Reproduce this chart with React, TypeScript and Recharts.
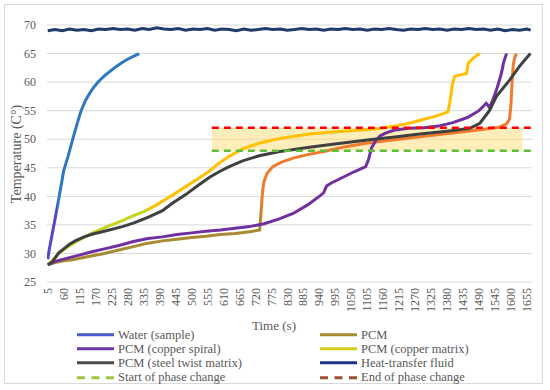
import { LineChart, Line, XAxis, YAxis, CartesianGrid, ReferenceArea } from 'recharts';

type Pt = [number, number];

const X_TICKS = [
  5, 60, 115, 170, 225, 280, 335, 390, 445, 500, 555, 610, 665, 720, 775, 830, 885, 940, 995, 1050, 1105, 1160,
  1215, 1270, 1325, 1380, 1435, 1490, 1545, 1600, 1655,
];
const Y_TICKS = [25, 30, 35, 40, 45, 50, 55, 60, 65, 70];

// [time (s), temperature (°C)]
const WATER: Pt[] = [
  [5, 29], [10, 30.6], [20, 33.3], [30, 36], [40, 38.7], [50, 41.6], [60, 44.5], [75, 47], [90, 49.8],
  [105, 52.5], [120, 55], [135, 56.8], [150, 58.1], [165, 59.2], [180, 60.1], [200, 61.1], [220, 61.9],
  [240, 62.7], [260, 63.4], [280, 64], [300, 64.5], [320, 65],
];

const PCM: Pt[] = [
  [5, 28], [30, 28.4], [60, 28.7], [90, 28.9], [120, 29.2], [150, 29.5], [200, 30], [250, 30.6], [300, 31.2],
  [350, 31.8], [400, 32.2], [450, 32.5], [500, 32.8], [550, 33], [600, 33.3], [650, 33.5], [700, 33.8],
  [735, 34.1], [740, 37.5], [745, 41], [750, 42.6], [760, 44], [780, 45.2], [810, 46], [850, 46.7], [900, 47.3],
  [960, 47.9], [1030, 48.7], [1100, 49.3], [1200, 49.9], [1300, 50.5], [1400, 51.1], [1500, 51.7], [1560, 52.1],
  [1585, 52.7], [1595, 53.5], [1600, 56], [1604, 60], [1608, 63], [1613, 64.3], [1619, 65],
];

const COPPER_SPIRAL: Pt[] = [
  [5, 28], [30, 28.6], [60, 29], [90, 29.4], [120, 29.8], [150, 30.2], [200, 30.8], [250, 31.4], [300, 32.1],
  [350, 32.6], [400, 32.9], [450, 33.3], [500, 33.6], [550, 33.9], [600, 34.1], [650, 34.4], [700, 34.7],
  [750, 35.2], [800, 36], [850, 37], [900, 38.5], [940, 40], [955, 40.6], [965, 41.8], [980, 42.3], [1020, 43.3],
  [1060, 44.3], [1100, 45.2], [1110, 46.5], [1120, 48.5], [1135, 49.8], [1150, 50.6], [1170, 51.1], [1200, 51.6],
  [1250, 51.9], [1300, 52], [1350, 52.3], [1400, 52.9], [1450, 53.8], [1490, 55], [1515, 56.3], [1525, 55.6],
  [1535, 56.5], [1550, 58.6], [1567, 61.5], [1575, 63.5], [1585, 65],
];

const COPPER_MATRIX: Pt[] = [
  [5, 28], [20, 28.7], [43, 30], [70, 31], [100, 32], [130, 32.8], [160, 33.6], [181, 34.1], [220, 34.9],
  [260, 35.7], [300, 36.6], [340, 37.4], [380, 38.5], [434, 40.2], [480, 41.7], [520, 43], [561, 44.4],
  [595, 45.8], [630, 47], [676, 48.3], [733, 49.3], [800, 50.1], [906, 50.9], [1021, 51.4], [1113, 51.7],
  [1148, 51.9], [1200, 52.3], [1251, 52.8], [1300, 53.5], [1340, 54], [1383, 54.8], [1390, 56.5], [1398, 59.5],
  [1406, 61], [1447, 61.5], [1453, 63.3], [1470, 64.2], [1493, 65],
];

const STEEL_TWIST: Pt[] = [
  [5, 28], [20, 28.5], [43, 30.1], [60, 30.8], [80, 31.6], [100, 32.2], [130, 32.9], [160, 33.4], [200, 33.9],
  [262, 34.7], [300, 35.3], [354, 36.4], [400, 37.5], [434, 38.8], [480, 40.3], [520, 41.8], [561, 43.3],
  [595, 44.3], [630, 45.2], [676, 46.2], [733, 47.1], [800, 47.8], [906, 48.6], [1000, 49.2], [1113, 49.9],
  [1200, 50.4], [1286, 50.9], [1380, 51.4], [1458, 51.9], [1493, 52.8], [1527, 55.1], [1550, 57.5],
  [1596, 60.4], [1630, 62.8], [1667, 65],
];

const HTF: Pt[] = [
  [5, 69], [30, 69.2], [55, 69], [80, 69.3], [105, 69.1], [130, 69.2], [155, 69], [180, 69.3], [205, 69.2],
  [230, 69.4], [255, 69.2], [280, 69.3], [305, 69.1], [330, 69.4], [355, 69.2], [380, 69.5], [405, 69.3],
  [430, 69.2], [455, 69.4], [480, 69.1], [505, 69.3], [530, 69.2], [555, 69.4], [580, 69.1], [605, 69.3],
  [630, 69.2], [655, 69], [680, 69.3], [705, 69.1], [730, 69.2], [755, 69.4], [780, 69.2], [805, 69.3],
  [830, 69.1], [855, 69.2], [880, 69.4], [905, 69.2], [930, 69.3], [955, 69.1], [980, 69.3], [1005, 69.2],
  [1030, 69.4], [1055, 69.2], [1080, 69.3], [1105, 69.1], [1130, 69.3], [1155, 69.2], [1180, 69.4],
  [1205, 69.2], [1230, 69.1], [1255, 69.3], [1280, 69.2], [1305, 69.4], [1330, 69.2], [1355, 69.3],
  [1380, 69.1], [1405, 69.3], [1430, 69.2], [1455, 69.4], [1480, 69.2], [1505, 69.3], [1530, 69.1],
  [1555, 69.3], [1580, 69], [1605, 69.2], [1630, 69.1], [1655, 69.3], [1668, 69.1],
];

const PHASE_START: Pt[] = [[570, 48], [1670, 48]];
const PHASE_END: Pt[] = [[570, 52], [1670, 52]];
const BAND_X = [570, 1640];
const BAND_Y = [48, 52];

// where the line colour shifts in the source image
const WATER_SPLIT = 37;
const PCM_SPLIT = 738;
const MATRIX_SPLIT = 350;

const LEGEND = [
  { name: 'Water (sample)', color: '#4B5BCB' },
  { name: 'PCM', color: '#A88A32' },
  { name: 'PCM (copper spiral)', color: '#6B36A8' },
  { name: 'PCM (copper matrix)', color: '#D4CB1E' },
  { name: 'PCM (steel twist matrix)', color: '#4A4A4A' },
  { name: 'Heat-transfer fluid', color: '#1F3385' },
  { name: 'Start of phase change', color: '#A3C63F', dashed: true },
  { name: 'End of phase change', color: '#9C5230', dashed: true },
];

const FONT = "'Liberation Serif', 'DejaVu Serif', serif";
const TEXT = '#595959';

const pts = (d: Pt[]) => d.map(([t, v]) => ({ t, v }));
const split = (d: Pt[], t: number) => (t - d[0][0]) / (d[d.length - 1][0] - d[0][0]);

function XTick({ x, y, payload }: any) {
  return (
    <text
      x={x}
      y={y}
      dy="0.35em"
      transform={`rotate(-90 ${x} ${y})`}
      textAnchor="end"
      fontSize={12}
      fontFamily={FONT}
      fill={TEXT}
    >
      {payload.value}
    </text>
  );
}

function HardGradient({ id, at, from, to }: { id: string; at: number; from: string; to: string }) {
  return (
    <linearGradient id={id} x1="0" y1="0" x2="1" y2="0">
      <stop offset={at} stopColor={from} />
      <stop offset={at} stopColor={to} />
    </linearGradient>
  );
}

export default function App() {
  const line = { type: 'linear' as const, dataKey: 'v', dot: false, isAnimationActive: false, strokeWidth: 3 };

  return (
    <div style={{ position: 'absolute', left: 0, top: 0, width: 550, height: 390, background: '#fff', fontFamily: FONT }}>
      <div
        style={{
          position: 'absolute',
          left: 4,
          top: 4,
          width: 539,
          height: 380,
          border: '1px solid #D9D9D9',
          boxSizing: 'border-box',
        }}
      />
      <div style={{ position: 'absolute', left: 0, top: 0 }}>
        <LineChart width={550} height={390} margin={{ top: 25, right: 18, left: 0, bottom: 0 }}>
          <defs>
            <HardGradient id="gWater" at={split(WATER, WATER_SPLIT)} from="#5247C6" to="#2E78C2" />
            <HardGradient id="gPcm" at={split(PCM, PCM_SPLIT)} from="#A88A32" to="#F07B2C" />
            <HardGradient id="gMatrix" at={split(COPPER_MATRIX, MATRIX_SPLIT)} from="#C6D41E" to="#FFC000" />
          </defs>
          <CartesianGrid vertical={false} stroke="#D9D9D9" />
          <XAxis
            type="number"
            dataKey="t"
            domain={[2.5, 1672.5]}
            ticks={X_TICKS}
            interval={0}
            allowDataOverflow
            axisLine={false}
            tickLine={false}
            tickSize={0}
            tickMargin={6}
            height={108}
            tick={<XTick />}
          />
          <YAxis
            type="number"
            domain={[25, 70]}
            ticks={Y_TICKS}
            interval={0}
            width={47}
            axisLine={false}
            tickLine={false}
            tickSize={0}
            tickMargin={11}
            tick={{ fontSize: 12, fontFamily: FONT, fill: TEXT }}
          />
          <ReferenceArea
            x1={BAND_X[0]}
            x2={BAND_X[1]}
            y1={BAND_Y[0]}
            y2={BAND_Y[1]}
            fill="#FFD966"
            fillOpacity={0.45}
            stroke="none"
          />
          <Line {...line} data={pts(WATER)} name="Water (sample)" stroke="url(#gWater)" />
          <Line {...line} data={pts(PCM)} name="PCM" stroke="url(#gPcm)" />
          <Line {...line} data={pts(COPPER_SPIRAL)} name="PCM (copper spiral)" stroke="#7030A0" />
          <Line {...line} data={pts(COPPER_MATRIX)} name="PCM (copper matrix)" stroke="url(#gMatrix)" />
          <Line {...line} data={pts(STEEL_TWIST)} name="PCM (steel twist matrix)" stroke="#404040" />
          <Line {...line} data={pts(HTF)} name="Heat-transfer fluid" stroke="#1F3B6E" />
          <Line {...line} data={pts(PHASE_START)} name="Start of phase change" stroke="#5DBE3C" strokeDasharray="7 5" strokeWidth={2.5} />
          <Line {...line} data={pts(PHASE_END)} name="End of phase change" stroke="#FF0000" strokeDasharray="7 5" strokeWidth={2.5} />
        </LineChart>
      </div>

      <div
        style={{
          position: 'absolute',
          left: 16.5,
          top: 154,
          transform: 'translate(-50%, -50%) rotate(-90deg)',
          whiteSpace: 'nowrap',
          fontSize: 14,
          lineHeight: 1,
          color: TEXT,
        }}
      >
        Temperature (C°)
      </div>
      <div
        style={{
          position: 'absolute',
          left: 274,
          top: 325,
          transform: 'translate(-50%, -50%)',
          whiteSpace: 'nowrap',
          fontSize: 13,
          lineHeight: 1,
          color: TEXT,
        }}
      >
        Time (s)
      </div>

      {LEGEND.map((item, i) => {
        const col = i % 2;
        const row = Math.floor(i / 2);
        const left = col === 0 ? 77 : 320;
        const top = 335 + row * 14.1;
        return (
          <div
            key={item.name}
            style={{ position: 'absolute', left, top, transform: 'translateY(-50%)', display: 'flex', alignItems: 'center' }}
          >
            <svg width={37} height={6}>
              <line
                x1={0}
                y1={3}
                x2={37}
                y2={3}
                stroke={item.color}
                strokeWidth={3}
                strokeDasharray={item.dashed ? '8 6.5' : undefined}
              />
            </svg>
            <span style={{ marginLeft: 4, fontSize: 12.5, lineHeight: 1, color: TEXT, whiteSpace: 'nowrap' }}>
              {item.name}
            </span>
          </div>
        );
      })}
    </div>
  );
}
